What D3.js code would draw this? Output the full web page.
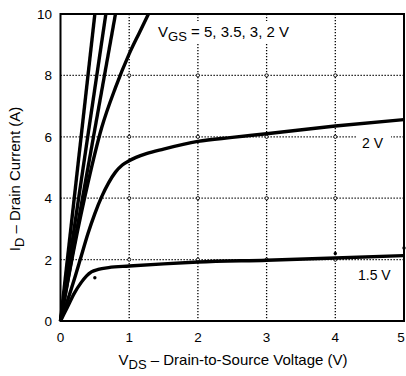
<!DOCTYPE html>
<html lang="en">
<head>
<meta charset="utf-8"/>
<title>ID vs VDS</title>
<script src="https://cdnjs.cloudflare.com/ajax/libs/d3/7.8.5/d3.min.js"></script>
<style>
  body { margin: 0; background: white; }
  svg text { font-family: "Liberation Sans", Arial, sans-serif; fill: black; }
</style>
</head>
<body>
<div id="chart"></div>
<script>
// tick values
var xTicks = [0, 1, 2, 3, 4, 5];
var yTicks = [0, 2, 4, 6, 8, 10];

// curves, [VDS, ID]
var vgs5  = [[0, 0], [0.5, 10]];
var vgs35 = [[0, 0], [0.66, 10]];
var vgs3  = [[0, 0], [0.8, 10]];
var vgs25 = [[0, 0], [0.2, 2.4], [0.4, 4.5], [0.6, 6.3], [0.8, 7.6], [1.0, 8.7], [1.15, 9.4], [1.28, 10]];
var vgs2  = [[0, 0], [0.1, 0.65], [0.2, 1.35], [0.3, 2.1], [0.4, 2.85], [0.5, 3.5], [0.6, 4.05], [0.7, 4.5],
             [0.8, 4.85], [0.9, 5.08], [1.0, 5.22], [1.25, 5.45], [1.5, 5.6], [2, 5.85], [2.5, 5.98],
             [3, 6.1], [4, 6.35], [5, 6.56]];
var vgs15 = [[0, 0], [0.1, 0.45], [0.2, 0.9], [0.3, 1.25], [0.38, 1.47], [0.45, 1.6], [0.55, 1.68],
             [0.7, 1.74], [1, 1.79], [1.5, 1.86], [2, 1.92], [3, 1.98], [4, 2.05], [5, 2.13]];
// little stray dots in the scan
var strayDots = [[0.5, 1.41], [4, 2.2], [5, 2.38]];

var W = 406, H = 376;
var pl = 60.5, pr = 404, pt = 14, pb = 321;

var x = d3.scaleLinear().domain([0, 5]).range([pl, pr]);
var y = d3.scaleLinear().domain([0, 10]).range([pb, pt]);

var svg = d3.select("#chart").append("svg")
  .attr("width", W).attr("height", H);

// grid
var grid = svg.append("g");
grid.selectAll(".gx").data(xTicks.slice(1, -1)).enter().append("line")
  .attr("x1", d => x(d)).attr("x2", d => x(d))
  .attr("y1", pt).attr("y2", pb)
  .attr("stroke", "black").attr("stroke-width", 1.3).attr("stroke-dasharray", "1.3,1.7");
grid.selectAll(".gy").data(yTicks.slice(1, -1)).enter().append("line")
  .attr("y1", d => y(d)).attr("y2", d => y(d))
  .attr("x1", pl).attr("x2", pr)
  .attr("stroke", "black").attr("stroke-width", 1.3).attr("stroke-dasharray", "1.3,1.7");

// small rings where grid lines cross
var crosses = [];
xTicks.slice(1, -1).forEach(function (a) {
  yTicks.slice(1, -1).forEach(function (b) { crosses.push([a, b]); });
});
grid.selectAll("circle").data(crosses).enter().append("circle")
  .attr("cx", d => x(d[0])).attr("cy", d => y(d[1])).attr("r", 1.6)
  .attr("fill", "white").attr("stroke", "black").attr("stroke-width", 0.9);

// labels with white backing (drawn before curves)
function label(tx, ty, main, sub, rest, size) {
  var t = svg.append("text").attr("x", tx).attr("y", ty).attr("font-size", size);
  t.append("tspan").text(main);
  if (sub) {
    t.append("tspan").attr("dy", 4).attr("font-size", size * 0.87).text(sub);
    t.append("tspan").attr("dy", -4).text(rest);
  }
  return t;
}
svg.append("rect").attr("x", 155).attr("y", 21).attr("width", 142).attr("height", 23).attr("fill", "white");
label(158, 37, "V", "GS", " = 5, 3.5, 3, 2 V", 15);
svg.append("rect").attr("x", 357).attr("y", 131).attr("width", 34).attr("height", 20).attr("fill", "white");
label(362, 147.5, "2 V", null, null, 14);
label(358, 280, "1.5 V", null, null, 14);

// curves
var line = d3.line().x(d => x(d[0])).y(d => y(d[1])).curve(d3.curveMonotoneX);
var curves = [vgs5, vgs35, vgs3, vgs25, vgs2, vgs15];
svg.append("g").selectAll("path").data(curves).enter().append("path")
  .attr("d", line)
  .attr("fill", "none").attr("stroke", "black").attr("stroke-width", 3.4)
  .attr("stroke-linejoin", "round");

svg.append("g").selectAll("circle").data(strayDots).enter().append("circle")
  .attr("cx", d => x(d[0])).attr("cy", d => y(d[1])).attr("r", 1.7).attr("fill", "black");

// frame
svg.append("rect").attr("x", pl).attr("y", pt)
  .attr("width", pr - pl).attr("height", pb - pt)
  .attr("fill", "none").attr("stroke", "black").attr("stroke-width", 2);

// tick labels
svg.append("g").selectAll("text").data(xTicks).enter().append("text")
  .attr("x", d => Math.min(x(d), 401)).attr("y", 342).attr("text-anchor", "middle")
  .attr("font-size", 13.5).text(d => d);
svg.append("g").selectAll("text").data(yTicks).enter().append("text")
  .attr("x", 52).attr("y", d => y(d) + 5).attr("text-anchor", "end")
  .attr("font-size", 13.5).text(d => d);

// axis titles
var xt = svg.append("text").attr("x", 233).attr("y", 365).attr("text-anchor", "middle").attr("font-size", 15);
xt.append("tspan").text("V");
xt.append("tspan").attr("dy", 4).attr("font-size", 13).text("DS");
xt.append("tspan").attr("dy", -4).text(" – Drain-to-Source Voltage (V)");

var yt = svg.append("text").attr("transform", "translate(20,179) rotate(-90)")
  .attr("text-anchor", "middle").attr("font-size", 15);
yt.append("tspan").text("I");
yt.append("tspan").attr("dy", 4).attr("font-size", 13).text("D");
yt.append("tspan").attr("dy", -4).text(" – Drain Current (A)");
</script>
</body>
</html>
